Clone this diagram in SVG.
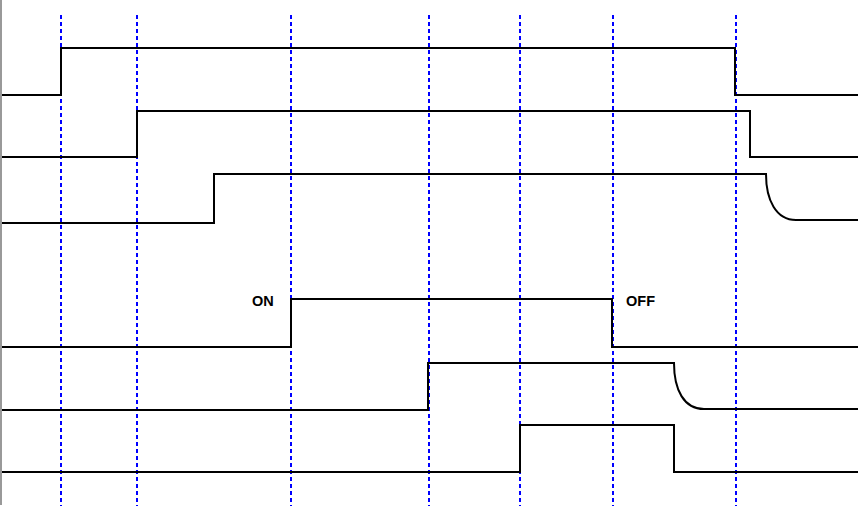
<svg xmlns="http://www.w3.org/2000/svg" width="861" height="507" viewBox="0 0 861 507">
<style>
.sig{fill:none;stroke:#000;stroke-width:2}
.grid{stroke:#0000ff;stroke-width:2;stroke-dasharray:4 3}
.lbl{font-family:"Liberation Sans",Arial,sans-serif;font-size:14.5px;font-weight:bold;fill:#000}
</style>
<rect width="861" height="507" fill="#fff"/>
<line x1="1" y1="0" x2="1" y2="505" stroke="#777" stroke-width="1.5"/>
<g id="connectors">
<line class="grid" x1="61" y1="15" x2="61" y2="506"/>
<line class="grid" x1="137" y1="15" x2="137" y2="506"/>
<line class="grid" x1="291" y1="15" x2="291" y2="506"/>
<line class="grid" x1="429" y1="15" x2="429" y2="506"/>
<line class="grid" x1="520" y1="15" x2="520" y2="506"/>
<line class="grid" x1="613" y1="15" x2="613" y2="506"/>
<line class="grid" x1="736" y1="15" x2="736" y2="506"/>
</g>
<g id="signal1"><path class="sig" d="M2,95 H61 V48 H735 V95 H858"/></g>
<g id="signal2"><path class="sig" d="M2,157 H137 V111 H750 V157 H858"/></g>
<g id="signal3"><path class="sig" d="M2,223 H214 V174 H766 C766,200 776,220 796,220 H858"/></g>
<g id="signal4"><path class="sig" d="M2,347 H291 V299 H612 V347 H858"/>
<text class="lbl" x="252" y="305.5">ON</text>
<text class="lbl" x="626" y="305.5">OFF</text></g>
<g id="signal5"><path class="sig" d="M2,410 H428 V363 H674 C674,390 684,409 704,409 H858"/></g>
<g id="signal6"><path class="sig" d="M2,472 H520 V425 H674 V472 H858"/></g>
</svg>
